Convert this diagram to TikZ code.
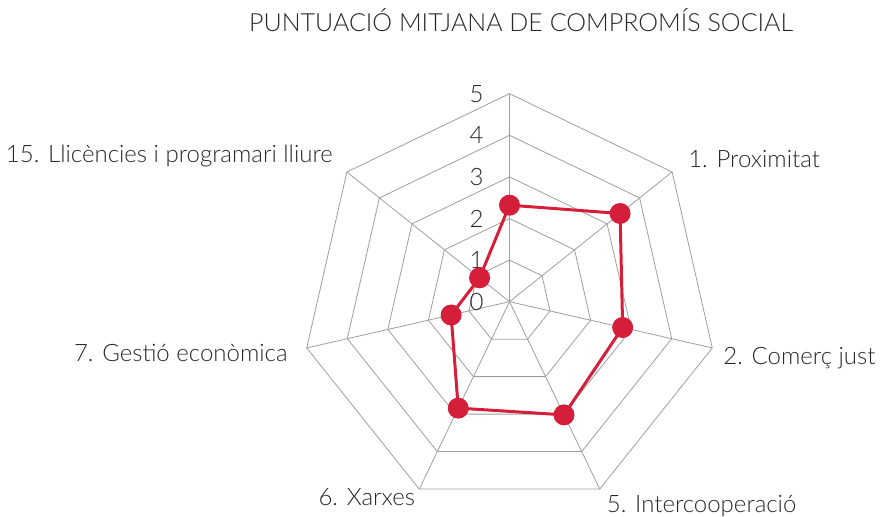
\documentclass[tikz,border=0pt]{standalone}
\usepackage{fontspec}
\setmainfont{Lato Light}
\usepackage{xcolor}
\usepackage{tikz}
\usetikzlibrary{positioning, calc}
\definecolor{RadarRed}{RGB}{212,30,58}
\definecolor{GridGray}{RGB}{158,158,158}
\definecolor{TextGray}{RGB}{40,40,40}
\tikzset{
    gridline/.style={
        draw=GridGray, line width=0.8pt
    },
    dataline/.style={
        draw=RadarRed, line width=3pt, line join=round
    },
    datadot/.style={
        circle, fill=RadarRed, minimum size=21pt, inner sep=0pt
    },
    catlabel/.style={
        font=\fontsize{24}{28}\selectfont, color=TextGray, inner sep=0pt
    },
    scalelabel/.style={
        font=\fontsize{24}{28}\selectfont, color=TextGray, inner sep=0pt
    }
}

\begin{document}
\begin{tikzpicture}[x=41.6pt, y=41.6pt]
    \useasboundingbox (-12.248,-5.175) rectangle (8.906,7.252);

    % --- 1. GRAELLA ---
    \coordinate (c) at (0,0);
    \foreach \r in {1,...,5}
        \draw[gridline] (90:\r) foreach \k in {1,...,6} { -- ({90-\k*360/7}:\r) } -- cycle;
    \foreach \k in {0,...,6}
        \coordinate (v\k) at ({90-\k*360/7}:5);
    \foreach \k in {0,...,6}
        \draw[gridline] (c) -- (v\k);

    % --- 2. ESCALA ---
    \foreach \k in {0,...,5}
        \node[scalelabel] (s\k) at (-0.79,\k) {\k};

    % --- 3. DADES ---
    \foreach \v [count=\k from 0] in {2.32,3.40,2.79,3.02,2.84,1.44,0.92}
        \coordinate (p\k) at ({90-\k*360/7}:\v);
    \draw[dataline] (p0) -- (p1) -- (p2) -- (p3) -- (p4) -- (p5) -- (p6) -- cycle;
    \foreach \k in {0,...,6}
        \node[datadot] (d\k) at (p\k) {};

    % --- 4. ETIQUETES ---
    \node[catlabel, anchor=base west, xshift=16pt, yshift=5pt] (l1) at (v1) {1. Proximitat};
    \node[catlabel, anchor=base west, xshift=11pt, yshift=-17pt] (l2) at (v2) {2. Comerç just};
    \node[catlabel, anchor=base west, xshift=7pt, yshift=-23pt] (l5) at (v3) {5. Intercooperació};
    \node[catlabel, anchor=base east, xshift=-4pt, yshift=-16pt] (l6) at (v4) {6. Xarxes};
    \node[catlabel, anchor=base east, xshift=-19pt, yshift=-14pt] (l7) at (v5) {7. Gestió econòmica};
    \node[catlabel, anchor=base east, xshift=-14pt, yshift=9pt] (l15) at (v6) {15. Llicències i programari lliure};

    % --- 5. TÍTOL ---
    \node[catlabel, font=\fontsize{25}{30}\selectfont, anchor=base] (title) at (0.28,6.49) {PUNTUACIÓ MITJANA DE COMPROMÍS SOCIAL};
\end{tikzpicture}
\end{document}
